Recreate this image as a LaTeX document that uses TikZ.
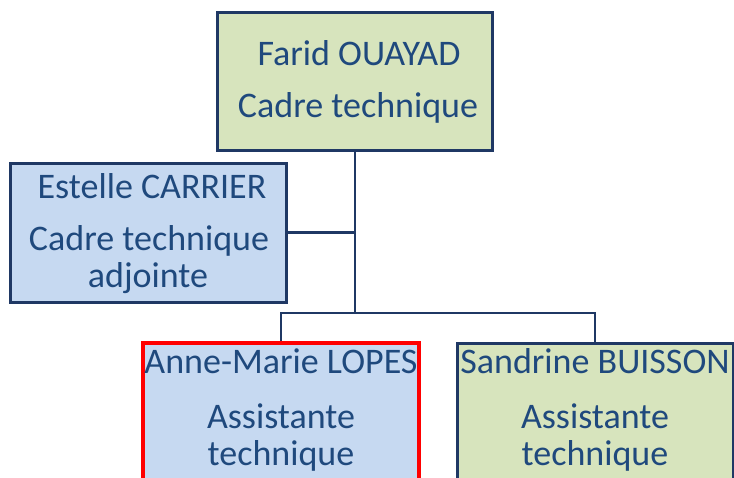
\documentclass[tikz,border=0pt]{standalone}
\usepackage{fontspec}
\setmainfont{Carlito}
\definecolor{navy}{RGB}{31,56,100}
\definecolor{txt}{RGB}{31,73,125}
\definecolor{greenfill}{RGB}{215,228,189}
\definecolor{bluefill}{RGB}{198,217,241}
\begin{document}
\begin{tikzpicture}[x=1pt,y=-1pt,
  box/.style={draw=navy,line width=3pt,inner sep=0pt},
  conn/.style={draw=navy,line width=2.8pt},
  lbl/.style={text=txt,font=\fontsize{36}{43}\selectfont,anchor=base,inner sep=0pt}]
\useasboundingbox (0,0) rectangle (734,477);
% boxes
\node[box,fill=greenfill,minimum width=275pt,minimum height=138pt] (farid) at (354.5,81) {};
\node[box,fill=bluefill,minimum width=276pt,minimum height=139pt] (estelle) at (148,232.5) {};
\node[box,fill=bluefill,draw=red,line width=4.5pt,minimum width=276pt,minimum height=160pt] (anne) at (281,423) {};
\node[box,fill=greenfill,minimum width=276pt,minimum height=160pt] (sandrine) at (595,423) {};
% connectors
\coordinate (bus) at (355,313);
\draw[conn] (farid.south -| bus) -- (bus);
\draw[conn] (estelle.east) -- (estelle.east -| bus);
\draw[conn] (anne.north) |- (bus) -| (sandrine.north);
% texts
\node[lbl] (t1) at (359,65) {Farid OUAYAD};
\node[lbl] (t2) at (358,117) {Cadre technique};
\node[lbl] (t3) at (152,198) {Estelle CARRIER};
\node[lbl] (t4) at (149,250) {Cadre technique};
\node[lbl] (t5) at (148,287) {adjointe};
\node[lbl] (t6) at (281,373) {Anne-Marie LOPES};
\node[lbl] (t7) at (281,428) {Assistante};
\node[lbl] (t8) at (281,465) {technique};
\node[lbl] (t9) at (595,373) {Sandrine BUISSON};
\node[lbl] (t10) at (595,428) {Assistante};
\node[lbl] (t11) at (595,465) {technique};
\end{tikzpicture}
\end{document}
